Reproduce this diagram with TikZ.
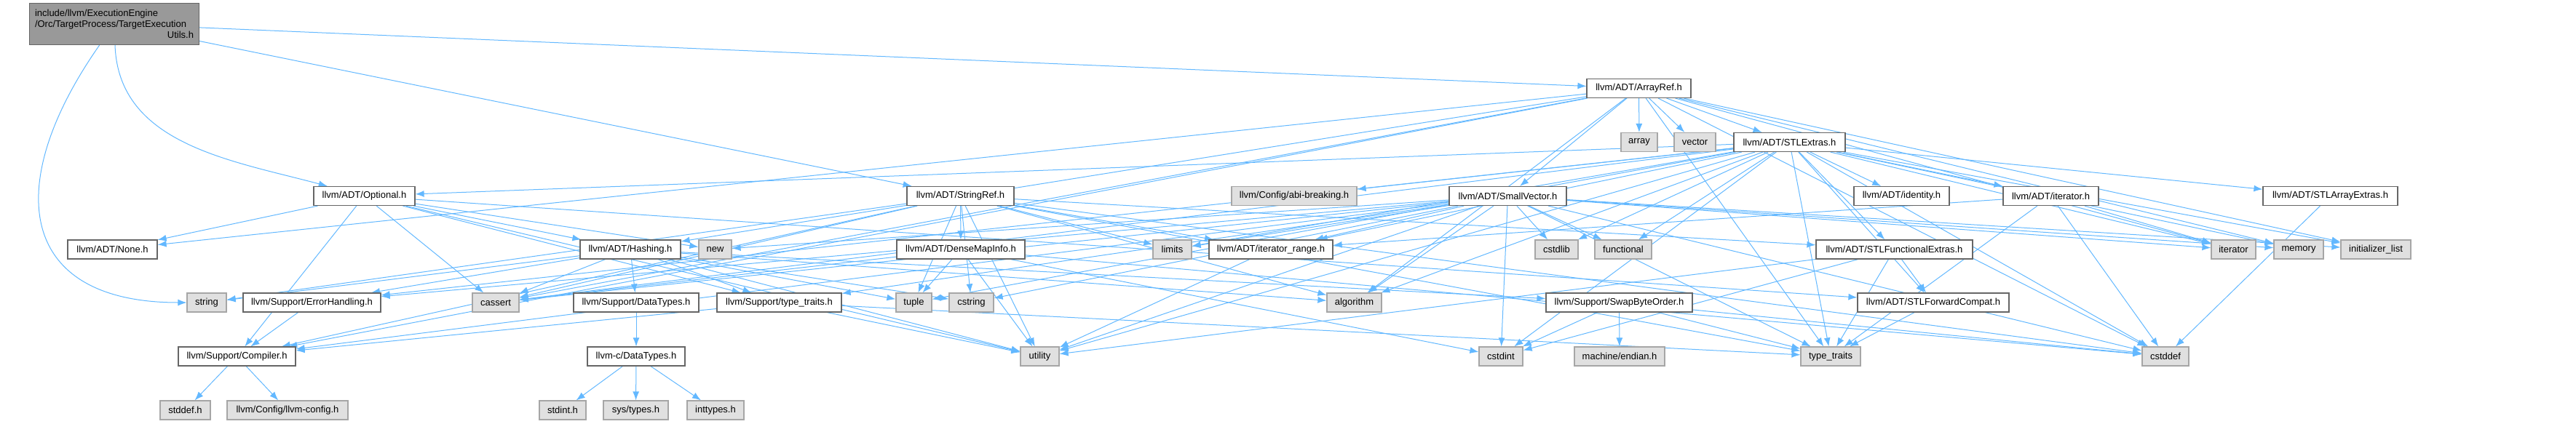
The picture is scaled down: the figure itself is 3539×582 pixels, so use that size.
\documentclass[tikz,border=0pt]{standalone}
\usepackage{fontspec}
\setmainfont{Liberation Sans}
\usepackage{xcolor}
\usepackage{tikz}
\usetikzlibrary{arrows.meta, backgrounds}

\definecolor{depblue}{HTML}{63B8FF}

\begin{document}
\begin{tikzpicture}[
	x=1pt, y=-1pt,
	font=\fontsize{13}{15}\selectfont,
	hdr/.style={draw=black!60, fill=white, line width=1.2pt, minimum height=26pt, inner sep=3pt},
	sys/.style={draw=black!35, fill=black!12, line width=1.2pt, minimum height=26pt, inner sep=3pt},
	top/.style={draw=black!60, fill=black!40, line width=1.2pt, align=left, inner sep=4pt},
	arr/.style={-{Latex[length=12pt, width=9pt]}, color=depblue, line width=1pt}
]

\useasboundingbox (0,0) rectangle (3539,582);

% rank 0 and 1
\node[top, minimum width=233pt, minimum height=57pt, text width=218pt] (root) at (157,33) {include/llvm/ExecutionEngine\\/Orc/TargetProcess/TargetExecution\\\hspace*{\fill}Utils.h\hspace*{\fill}};
\node[hdr, minimum width=143pt] (arrayref) at (2251.5,121.5) {llvm/ADT/ArrayRef.h};

% rank 2
\node[sys, minimum width=50pt] (arrayh) at (2252,195.5) {array};
\node[sys, minimum width=57pt] (vectorh) at (2328.5,195.5) {vector};
\node[hdr, minimum width=153pt] (stlextras) at (2458.5,195.5) {llvm/ADT/STLExtras.h};

% rank 3
\node[hdr, minimum width=139pt] (optional) at (500.5,269.5) {llvm/ADT/Optional.h};
\node[hdr, minimum width=147pt] (stringref) at (1319.5,269.5) {llvm/ADT/StringRef.h};
\node[sys, minimum width=172pt] (abibreaking) at (1778,269.5) {llvm/Config/abi-breaking.h};
\node[hdr, minimum width=161pt] (smallvector) at (2071.5,269.5) {llvm/ADT/SmallVector.h};
\node[hdr, minimum width=131pt] (identity) at (2612.5,269.5) {llvm/ADT/identity.h};
\node[hdr, minimum width=131pt] (iteratorh) at (2817.5,269.5) {llvm/ADT/iterator.h};
\node[hdr, minimum width=185pt] (stlarrayextras) at (3201.5,269.5) {llvm/ADT/STLArrayExtras.h};

% rank 4
\node[hdr, minimum width=123pt] (none) at (154.5,343) {llvm/ADT/None.h};
\node[hdr, minimum width=138pt] (hashing) at (866,343) {llvm/ADT/Hashing.h};
\node[sys, minimum width=45pt] (newh) at (982.5,343) {new};
\node[hdr, minimum width=176pt] (densemapinfo) at (1320,343) {llvm/ADT/DenseMapInfo.h};
\node[sys, minimum width=53pt] (limitsh) at (1610.5,343) {limits};
\node[hdr, minimum width=170pt] (iterrange) at (1746,343) {llvm/ADT/iterator\_range.h};
\node[sys, minimum width=59pt] (cstdlib) at (2138.5,343) {cstdlib};
\node[sys, minimum width=78pt] (functional) at (2230,343) {functional};
\node[hdr, minimum width=215pt] (stlfuncextras) at (2602.5,343) {llvm/ADT/STLFunctionalExtras.h};
\node[sys, minimum width=61pt] (iteratorstd) at (3068.5,343) {iterator};
\node[sys, minimum width=68pt] (memory) at (3158,343) {memory};
\node[sys, minimum width=96pt] (initlist) at (3264,343) {initializer\_list};

% rank 5
\node[sys, minimum width=54pt] (stringh) at (284,416) {string};
\node[hdr, minimum width=189pt] (errorhandling) at (428.5,416) {llvm/Support/ErrorHandling.h};
\node[sys, minimum width=64pt] (cassert) at (681,416) {cassert};
\node[hdr, minimum width=172pt] (datatypes) at (874,416) {llvm/Support/DataTypes.h};
\node[hdr, minimum width=171pt] (supporttraits) at (1070.5,416) {llvm/Support/type\_traits.h};
\node[sys, minimum width=49pt] (tuple) at (1255.5,416) {tuple};
\node[sys, minimum width=61pt] (cstring) at (1334.5,416) {cstring};
\node[sys, minimum width=75pt] (algorithm) at (1860.5,416) {algorithm};
\node[hdr, minimum width=201pt] (swapbyteorder) at (2224.5,416) {llvm/Support/SwapByteOrder.h};
\node[hdr, minimum width=208pt] (stlfwdcompat) at (2656,416) {llvm/ADT/STLForwardCompat.h};

% rank 6
\node[hdr, minimum width=161pt] (compiler) at (325.5,490) {llvm/Support/Compiler.h};
\node[hdr, minimum width=134pt] (cdatatypes) at (874,490) {llvm-c/DataTypes.h};
\node[sys, minimum width=53pt] (utility) at (1428.5,490) {utility};
\node[sys, minimum width=60pt] (cstdint) at (2062,490) {cstdint};
\node[sys, minimum width=124pt] (endian) at (2225,490) {machine/endian.h};
\node[sys, minimum width=82pt] (typetraits) at (2515,490) {type\_traits};
\node[sys, minimum width=64pt] (cstddef) at (2975,490) {cstddef};

% rank 7
\node[sys, minimum width=69pt] (stddefh) at (254.5,564) {stddef.h};
\node[sys, minimum width=166pt] (llvmconfig) at (395,564) {llvm/Config/llvm-config.h};
\node[sys, minimum width=64pt] (stdinth) at (773,564) {stdint.h};
\node[sys, minimum width=89pt] (systypes) at (873.5,564) {sys/types.h};
\node[sys, minimum width=78pt] (inttypes) at (983,564) {inttypes.h};

\begin{scope}[on background layer]
	\path (root) edge[arr] (arrayref) edge[arr, out=-88, in=165] (optional) edge[arr] (stringref)
		edge[arr, out=-125, in=180, looseness=1.6] (stringh);
	\path (arrayref) edge[arr] (hashing) edge[arr] (none) edge[arr] (smallvector) edge[arr] (stlextras)
		edge[arr] (compiler) edge[arr] (algorithm) edge[arr] (arrayh) edge[arr] (cassert)
		edge[arr] (cstddef) edge[arr] (initlist) edge[arr] (iteratorstd) edge[arr] (memory)
		edge[arr] (typetraits) edge[arr] (vectorh);
	\path (optional) edge[arr] (hashing) edge[arr] (none) edge[arr] (stlfwdcompat) edge[arr] (compiler)
		edge[arr] (supporttraits) edge[arr] (cassert) edge[arr] (newh) edge[arr] (utility);
	\path (stringref) edge[arr] (densemapinfo) edge[arr] (stlfuncextras) edge[arr] (iterrange)
		edge[arr] (compiler) edge[arr] (algorithm) edge[arr] (cassert) edge[arr] (cstddef)
		edge[arr] (cstring) edge[arr] (limitsh) edge[arr] (stringh) edge[arr] (tuple)
		edge[arr] (typetraits) edge[arr] (utility);
	\path (smallvector) edge[arr] (iterrange) edge[arr] (compiler) edge[arr] (errorhandling)
		edge[arr] (supporttraits) edge[arr] (algorithm) edge[arr] (cassert) edge[arr] (cstddef)
		edge[arr] (cstdint) edge[arr] (cstdlib) edge[arr] (cstring) edge[arr] (functional)
		edge[arr] (initlist) edge[arr] (iteratorstd) edge[arr] (limitsh) edge[arr] (memory)
		edge[arr] (newh) edge[arr] (typetraits) edge[arr] (utility);
	\path (stlextras) edge[arr] (optional) edge[arr] (stlarrayextras) edge[arr] (stlfwdcompat)
		edge[arr] (stlfuncextras) edge[arr] (identity) edge[arr] (iteratorh) edge[arr] (iterrange)
		edge[arr] (abibreaking) edge[arr] (errorhandling) edge[arr] (algorithm) edge[arr] (cassert)
		edge[arr] (cstddef) edge[arr] (cstdint) edge[arr] (cstdlib) edge[arr] (functional)
		edge[arr] (initlist) edge[arr] (iteratorstd) edge[arr] (limitsh) edge[arr] (memory)
		edge[arr] (tuple) edge[arr] (typetraits) edge[arr] (utility);
	\path (hashing) edge[arr] (datatypes) edge[arr] (errorhandling) edge[arr] (swapbyteorder)
		edge[arr] (supporttraits) edge[arr] (algorithm) edge[arr] (cassert) edge[arr] (cstring)
		edge[arr] (stringh) edge[arr] (tuple) edge[arr] (utility);
	\path (densemapinfo) edge[arr] (cassert) edge[arr] (cstddef) edge[arr] (cstdint)
		edge[arr] (tuple) edge[arr] (utility);
	\path (iterrange) edge[arr] (utility);
	\path (iteratorh) edge[arr] (iterrange) edge[arr] (cstddef) edge[arr] (iteratorstd) edge[arr] (typetraits);
	\path (stlfuncextras) edge[arr] (stlfwdcompat) edge[arr] (cstdint) edge[arr] (typetraits) edge[arr] (utility);
	\path (stlfwdcompat) edge[arr] (typetraits);
	\path (stlarrayextras) edge[arr] (cstddef);
	\path (supporttraits) edge[arr] (compiler) edge[arr] (typetraits) edge[arr] (utility);
	\path (datatypes) edge[arr] (cdatatypes);
	\path (cdatatypes) edge[arr] (stdinth) edge[arr] (systypes) edge[arr] (inttypes);
	\path (compiler) edge[arr] (stddefh) edge[arr] (llvmconfig);
	\path (errorhandling) edge[arr] (compiler);
	\path (swapbyteorder) edge[arr] (cstddef) edge[arr] (cstdint) edge[arr] (endian) edge[arr] (typetraits);
\end{scope}

\end{tikzpicture}
\end{document}
